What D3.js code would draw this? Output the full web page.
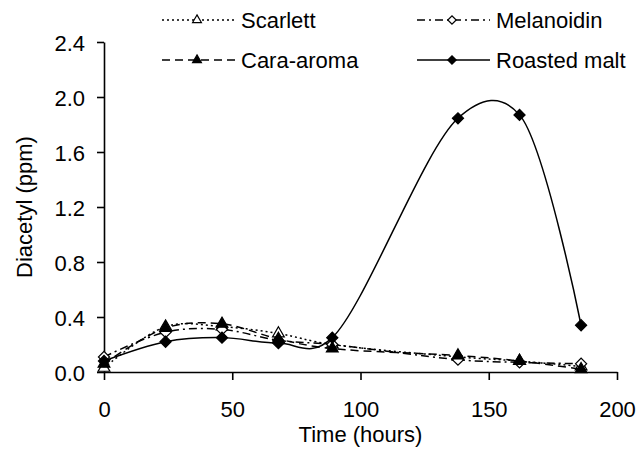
<!DOCTYPE html>
<html>
<head>
<meta charset="utf-8">
<script src="https://cdn.jsdelivr.net/npm/d3@7"></script>
<style>
  body { margin: 0; background: #fff; }
  text { font-family: Arial, "Liberation Sans", sans-serif; fill: #000; }
</style>
</head>
<body>
<div id="chart"></div>
<script>
// time points (hours)
const hours = [0, 24, 46, 68, 89, 138, 162, 186];

// diacetyl (ppm) per malt
const scarlett   = [0.03, 0.33, 0.33, 0.28, 0.20, 0.11, 0.08, 0.04];
const melanoidin = [0.11, 0.29, 0.31, 0.23, 0.20, 0.09, 0.07, 0.06];
const caraAroma  = [0.06, 0.32, 0.35, 0.24, 0.17, 0.12, 0.08, 0.02];
const roasted    = [0.08, 0.22, 0.25, 0.21, 0.25, 1.845, 1.87, 0.34];

const xTicks = [0, 50, 100, 150, 200];
const yTicks = [0, 0.4, 0.8, 1.2, 1.6, 2.0, 2.4];

const series = [
  { name: "Scarlett",     values: scarlett,   dash: "2,3",     marker: "tri", fill: "#fff" },
  { name: "Melanoidin",   values: melanoidin, dash: "8,4,2,4", marker: "dia", fill: "#fff" },
  { name: "Cara-aroma",   values: caraAroma,  dash: "8,5",     marker: "tri", fill: "#000" },
  { name: "Roasted malt", values: roasted,    dash: null,      marker: "dia", fill: "#000" }
];

const W = 642, H = 451;
const margin = { top: 42, right: 25, bottom: 79, left: 104 };

const svg = d3.select("#chart").append("svg")
  .attr("width", W).attr("height", H);

const x = d3.scaleLinear().domain([0, 200]).range([margin.left, W - margin.right]);
const y = d3.scaleLinear().domain([0, 2.4]).range([H - margin.bottom, margin.top]);

// axes
svg.append("g")
  .attr("transform", `translate(0,${H - margin.bottom})`)
  .call(d3.axisBottom(x).tickValues(xTicks).tickSize(8).tickPadding(21).tickSizeOuter(0).tickFormat(d3.format("d")))
  .call(g => g.selectAll("text").style("font-size", "22px"));

svg.append("g")
  .attr("transform", `translate(${margin.left},0)`)
  .call(d3.axisLeft(y).tickValues(yTicks).tickSize(7).tickPadding(12).tickSizeOuter(0).tickFormat(d3.format(".1f")))
  .call(g => g.selectAll("text").style("font-size", "22px").attr("dy", "0.4em"));

svg.selectAll(".domain, .tick line").attr("stroke", "#000").attr("stroke-width", 1.6);

svg.append("text")
  .attr("x", (margin.left + W - margin.right) / 2)
  .attr("y", 442)
  .attr("text-anchor", "middle")
  .style("font-size", "22px")
  .text("Time (hours)");

svg.append("text")
  .attr("transform", `translate(32,${(margin.top + H - margin.bottom) / 2}) rotate(-90)`)
  .attr("text-anchor", "middle")
  .style("font-size", "22px")
  .text("Diacetyl (ppm)");

// smoothed lines, close to the spreadsheet "smoothed line" look
const line = d3.line()
  .x(d => x(d[0]))
  .y(d => y(d[1]))
  .curve(d3.curveCatmullRom.alpha(0.25));

function drawMarker(g, s, cx, cy, scale) {
  const size = s.marker === "tri" ? 60 : 62;
  const sym = d3.symbol()
    .type(s.marker === "tri" ? d3.symbolTriangle : d3.symbolSquare)
    .size(size * scale * scale);
  g.append("path")
    .attr("d", sym())
    .attr("fill", s.fill)
    .attr("stroke", "#000")
    .attr("stroke-width", 1.2)
    .attr("transform", `translate(${cx},${cy})` + (s.marker === "dia" ? " rotate(45)" : ""));
}

series.forEach(s => {
  const pts = hours.map((h, i) => [h, s.values[i]]);
  svg.append("path")
    .datum(pts)
    .attr("fill", "none")
    .attr("stroke", "#000")
    .attr("stroke-width", 1.5)
    .attr("stroke-dasharray", s.dash)
    .attr("d", line);
  const g = svg.append("g");
  pts.forEach(p => drawMarker(g, s, x(p[0]), y(p[1]), 1));
});

// legend
const legendPos = [
  { lx: 162, ty: 20 },
  { lx: 417, ty: 20 },
  { lx: 162, ty: 60 },
  { lx: 417, ty: 60 }
];
series.forEach((s, i) => {
  const pos = legendPos[i];
  const g = svg.append("g");
  g.append("line")
    .attr("x1", pos.lx).attr("x2", pos.lx + 73)
    .attr("y1", pos.ty).attr("y2", pos.ty)
    .attr("stroke", "#000").attr("stroke-width", 1.5)
    .attr("stroke-dasharray", s.dash);
  drawMarker(g, s, pos.lx + 35, pos.ty, 0.75);
  g.append("text")
    .attr("x", pos.lx + 79)
    .attr("y", pos.ty)
    .attr("dy", "0.36em")
    .style("font-size", "22px")
    .text(s.name);
});
</script>
</body>
</html>
